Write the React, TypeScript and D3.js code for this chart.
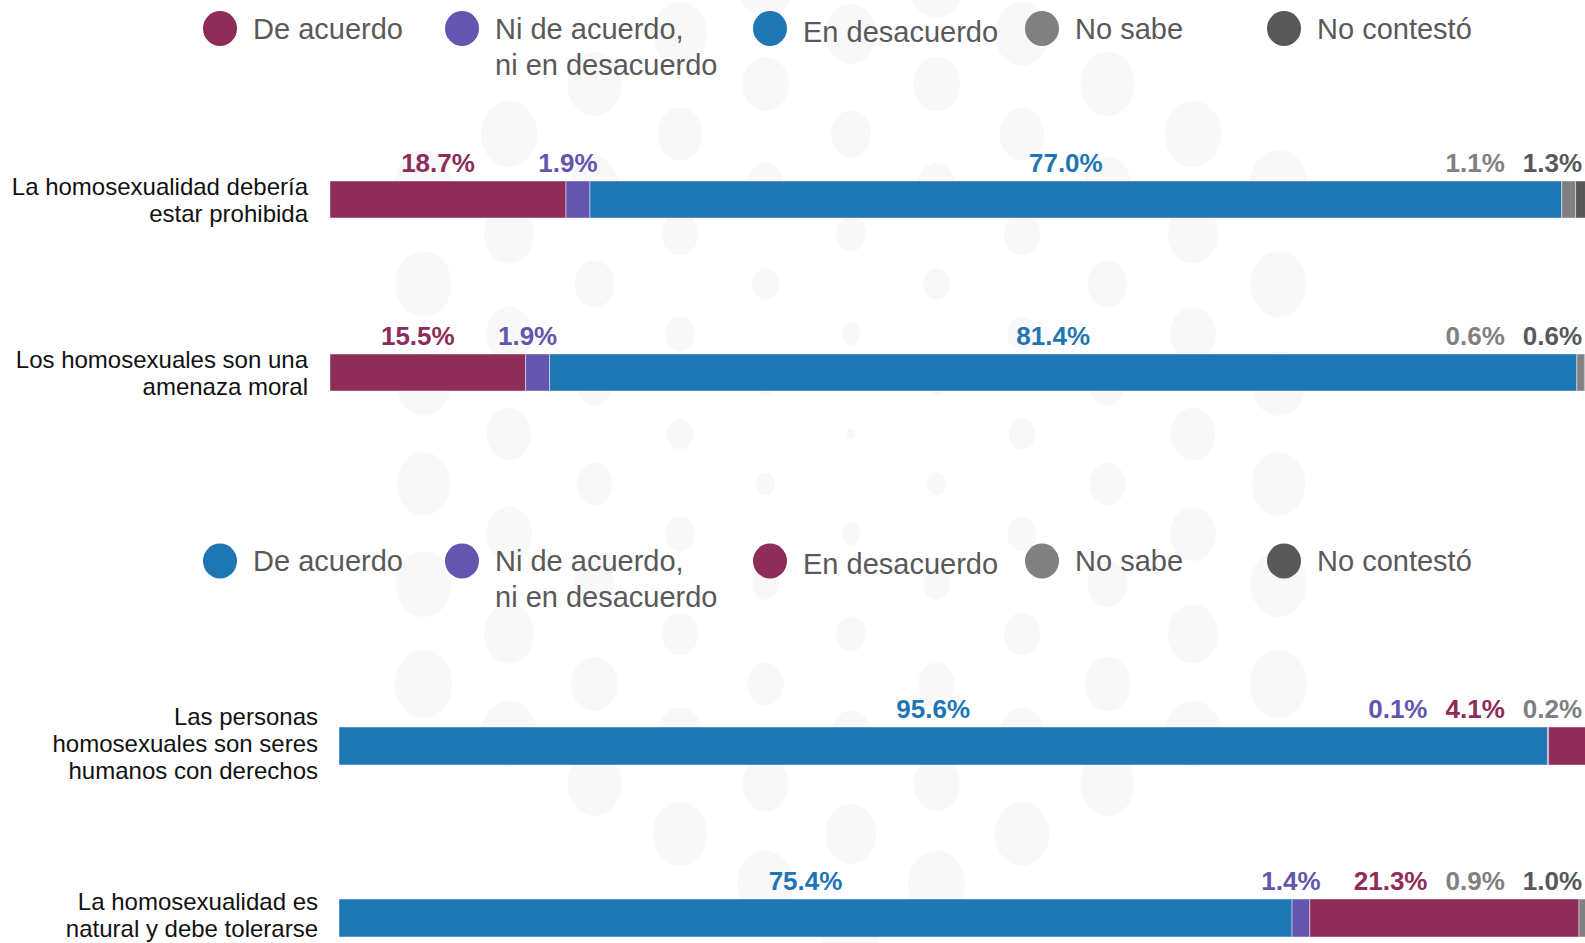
import React from "react";
import * as d3 from "d3";

// --- data ---
const topCategories = ["La homosexualidad debería\nestar prohibida", "Los homosexuales son una\namenaza moral"];
const bottomCategories = ["Las personas\nhomosexuales son seres\nhumanos con derechos", "La homosexualidad es\nnatural y debe tolerarse"];

const seriesKeys = ["deAcuerdo", "ni", "desacuerdo", "noSabe", "noContesto"];
const legendLabels = ["De acuerdo", "Ni de acuerdo,\nni en desacuerdo", "En desacuerdo", "No sabe", "No contestó"];

// values per category: top two rows, then bottom two rows
const deAcuerdo = [18.7, 15.5, 95.6, 75.4];
const ni = [1.9, 1.9, 0.1, 1.4];
const desacuerdo = [77.0, 81.4, 4.1, 21.3];
const noSabe = [1.1, 0.6, 0.2, 0.9];
const noContesto = [1.3, 0.6, 0.0, 1.0];

const topColors = ["#8e2c5a", "#6455ae", "#1f76b4", "#808080", "#585858"];
const bottomColors = ["#1f76b4", "#6455ae", "#8e2c5a", "#808080", "#585858"];

const W = 1585;
const H = 943;
const FONT = "'Liberation Sans', Arial, sans-serif";

const legendX = [220, 462, 770, 1042, 1284];

type Row = { cat: string; [k: string]: any };

function buildRows(cats: string[], offset: number): Row[] {
  return cats.map((cat, i) => ({
    cat,
    deAcuerdo: deAcuerdo[i + offset],
    ni: ni[i + offset],
    desacuerdo: desacuerdo[i + offset],
    noSabe: noSabe[i + offset],
    noContesto: noContesto[i + offset],
  }));
}

// rough bold Arial width of a percentage label
function labelWidth(s: string, size: number) {
  let w = 0;
  for (const ch of s) w += ch === "." ? 0.278 : ch === "%" ? 0.889 : 0.556;
  return w * size;
}

const LABEL_SIZE = 26;

function Legend({ y, colors }: { y: number; colors: string[] }) {
  return (
    <g>
      {legendLabels.map((lab, i) => {
        const lines = lab.split("\n");
        return (
          <g key={i} transform={`translate(${legendX[i]},${y})`}>
            <ellipse rx={17} ry={17.5} fill={colors[i]} />
            {lines.map((ln, j) => (
              <text
                key={j}
                x={33}
                y={(i === 2 ? 3 : 0) + j * 36}
                dominantBaseline="central"
                fontFamily={FONT}
                fontSize={29}
                fill="#595959"
              >
                {ln}
              </text>
            ))}
          </g>
        );
      })}
    </g>
  );
}

function Panel({
  rows,
  colors,
  x,
  centers,
  barH,
  labelRight,
  labelShift,
}: {
  rows: Row[];
  colors: string[];
  x: d3.ScaleLinear<number, number>;
  centers: [number, number];
  barH: number;
  labelRight: number;
  labelShift: number;
}) {
  const y = d3.scalePoint<string>().domain(rows.map((r) => r.cat)).range(centers);
  const stacked = d3.stack<Row>().keys(seriesKeys)(rows);

  return (
    <g>
      {rows.map((row, ri) => {
        const cy = y(row.cat)!;
        const top = cy - barH / 2;
        // label centres at segment middles, pushed apart right-to-left
        const labs = stacked
          .map((s, si) => {
            const v = row[s.key] as number;
            const txt = v.toFixed(1) + "%";
            return { si, v, txt, w: labelWidth(txt, LABEL_SIZE), cx: x((s[ri][0] + s[ri][1]) / 2) - 10 };
          })
          .filter((l) => l.v > 0);
        for (let k = labs.length - 1; k >= 0; k--) {
          const l = labs[k];
          if (k === labs.length - 1) l.cx = Math.min(l.cx, W - l.w / 2 - 3);
          else {
            const n = labs[k + 1];
            l.cx = Math.min(l.cx, n.cx - n.w / 2 - l.w / 2 - 18);
          }
        }
        const lines = row.cat.split("\n");
        const lh = 27;
        return (
          <g key={ri}>
            {lines.map((ln, j) => (
              <text
                key={j}
                x={labelRight}
                y={cy + labelShift + (j - (lines.length - 1) / 2) * lh}
                textAnchor="end"
                dominantBaseline="central"
                fontFamily={FONT}
                fontSize={24}
                fill="#111"
              >
                {ln}
              </text>
            ))}
            {labs.map((l) => (
              <text
                key={"l" + l.si}
                x={l.cx}
                y={top - 9}
                textAnchor="middle"
                fontFamily={FONT}
                fontWeight="bold"
                fontSize={LABEL_SIZE}
                fill={colors[l.si]}
              >
                {l.txt}
              </text>
            ))}
            {stacked.map((s, si) => (
              <rect
                key={si}
                x={x(s[ri][0])}
                y={top}
                width={Math.max(0, x(s[ri][1]) - x(s[ri][0]))}
                height={barH}
                fill={colors[si]}
                stroke="rgba(255,255,255,0.45)"
                strokeWidth={1}
              />
            ))}
          </g>
        );
      })}
    </g>
  );
}

// faint decorative dot pattern behind the chart
function Backdrop() {
  const cx = 851;
  const cy = 434;
  const dots: { x: number; y: number; r: number }[] = [];
  for (let c = -6; c <= 6; c++) {
    for (let r = -5; r <= 6; r++) {
      const px = cx + c * 85.5;
      const py = cy + r * 100 + (Math.abs(c) % 2 === 1 ? 50 : 0);
      const d = Math.hypot(px - cx, py - cy);
      if (d > 500) continue;
      dots.push({ x: px, y: py, r: Math.min(34, 5 + d * 0.062) });
    }
  }
  return (
    <g>
      {dots.map((d, i) => (
        <ellipse key={i} cx={d.x} cy={d.y} rx={d.r * 0.85} ry={d.r} fill="#f8f8f8" />
      ))}
    </g>
  );
}

export default function App() {
  const topRows = buildRows(topCategories, 0);
  const bottomRows = buildRows(bottomCategories, 2);
  const xTop = d3.scaleLinear().domain([0, 100]).range([330, 1592]);
  const xBottom = d3.scaleLinear().domain([0, 100]).range([339, 1603]);

  return (
    <svg
      width={W}
      height={H}
      style={{ position: "fixed", left: 0, top: 0, background: "#fff" }}
    >
      <rect width={W} height={H} fill="#fff" />
      <Backdrop />
      <Legend y={28.5} colors={topColors} />
      <Panel rows={topRows} colors={topColors} x={xTop} centers={[199.5, 372.5]} barH={37} labelRight={308} labelShift={0} />
      <Legend y={561} colors={bottomColors} />
      <Panel rows={bottomRows} colors={bottomColors} x={xBottom} centers={[746, 918]} barH={38} labelRight={318} labelShift={-3} />
    </svg>
  );
}
